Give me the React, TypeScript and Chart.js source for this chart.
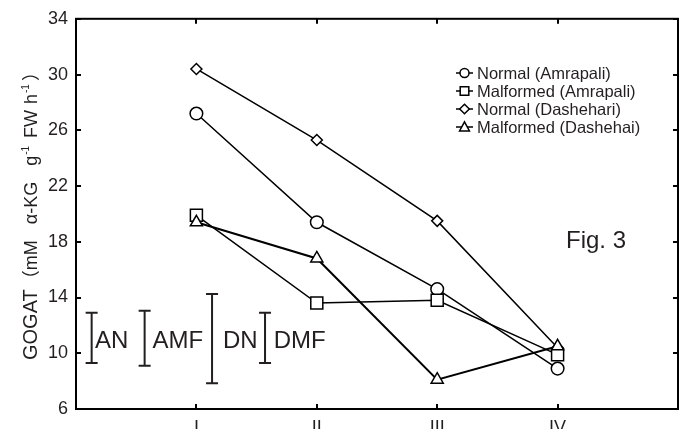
import React, { useEffect, useRef } from "react";
import { Chart, registerables } from "chart.js";

Chart.register(...registerables);

// ---- data ----
const stageLabels = ["I", "II", "III", "IV"];
const stagePositions = [1, 2, 3, 4];
const seriesNames = [
  "Normal (Amrapali)",
  "Malformed (Amrapali)",
  "Normal (Dashehari)",
  "Malformed (Dashehai)",
];
const normalAmrapali = [27.2, 19.4, 14.6, 8.9];
const malformedAmrapali = [19.9, 13.6, 13.8, 9.9];
const normalDashehari = [30.4, 25.3, 19.5, 10.4];
const malformedDashehai = [19.4, 16.8, 8.1, 10.5];
const yMin = 6;
const yMax = 34;
const yStep = 4;

// LSD bars (x in axis units, low/high in y units)
const lsdLabels = ["AN", "AMF", "DN", "DMF"];
const lsdX = [0.13, 0.57, 1.13, 1.57];
const lsdLow = [9.3, 9.1, 7.85, 9.3];
const lsdHigh = [12.9, 13.05, 14.25, 12.9];
const lsdTextX = [0.157, 0.635, 1.221, 1.642];

const figLabel = "Fig. 3";

const FONT = "Arial, 'Liberation Sans', sans-serif";

function drawMarker(ctx: CanvasRenderingContext2D, style: string, x: number, y: number, r: number) {
  ctx.beginPath();
  if (style === "circle") {
    ctx.arc(x, y, r, 0, Math.PI * 2);
  } else if (style === "rect") {
    ctx.rect(x - r, y - r, 2 * r, 2 * r);
  } else if (style === "rectRot") {
    ctx.moveTo(x, y - r);
    ctx.lineTo(x + r, y);
    ctx.lineTo(x, y + r);
    ctx.lineTo(x - r, y);
    ctx.closePath();
  } else if (style === "triangle") {
    ctx.moveTo(x, y - r);
    ctx.lineTo(x + r * 0.95, y + r * 0.75);
    ctx.lineTo(x - r * 0.95, y + r * 0.75);
    ctx.closePath();
  }
  ctx.fill();
  ctx.stroke();
}

const decorPlugin = {
  id: "decor",
  afterDatasetsDraw(chart: any) {
    const { ctx, chartArea, scales } = chart;
    const xs = scales.x;
    const ys = scales.y;
    ctx.save();
    // frame
    ctx.strokeStyle = "#000";
    ctx.lineWidth = 2;
    ctx.strokeRect(chartArea.left, chartArea.top, chartArea.right - chartArea.left, chartArea.bottom - chartArea.top);
    // inward ticks
    const tl = 5;
    ctx.beginPath();
    stagePositions.forEach((v) => {
      const px = Math.round(xs.getPixelForValue(v));
      ctx.moveTo(px, chartArea.bottom);
      ctx.lineTo(px, chartArea.bottom - tl);
      ctx.moveTo(px, chartArea.top);
      ctx.lineTo(px, chartArea.top + tl);
    });
    for (let v = yMin; v <= yMax; v += yStep) {
      const py = Math.round(ys.getPixelForValue(v));
      ctx.moveTo(chartArea.left, py);
      ctx.lineTo(chartArea.left + tl, py);
      ctx.moveTo(chartArea.right, py);
      ctx.lineTo(chartArea.right - tl, py);
    }
    ctx.stroke();

    // LSD bars
    ctx.strokeStyle = "#231f20";
    ctx.fillStyle = "#231f20";
    ctx.lineWidth = 2;
    ctx.font = `24px ${FONT}`;
    ctx.textBaseline = "alphabetic";
    ctx.textAlign = "left";
    lsdLabels.forEach((lab, i) => {
      const px = xs.getPixelForValue(lsdX[i]);
      const top = ys.getPixelForValue(lsdHigh[i]);
      const bot = ys.getPixelForValue(lsdLow[i]);
      ctx.beginPath();
      ctx.moveTo(px, top);
      ctx.lineTo(px, bot);
      ctx.moveTo(px - 6, top);
      ctx.lineTo(px + 6, top);
      ctx.moveTo(px - 6, bot);
      ctx.lineTo(px + 6, bot);
      ctx.stroke();
      const mid = ys.getPixelForValue(11.05);
      ctx.fillText(lab, xs.getPixelForValue(lsdTextX[i]), mid + 9);
    });

    // Fig label
    ctx.fillStyle = "#231f20";
    ctx.font = `24px ${FONT}`;
    ctx.fillText(figLabel, 566, 248);

    // legend
    const styles = ["circle", "rect", "rectRot", "triangle"];
    const radii = [4.5, 4.3, 4.8, 5.2];
    ctx.font = `16.5px ${FONT}`;
    ctx.textBaseline = "middle";
    seriesNames.forEach((name, i) => {
      const y = 73 + i * 18;
      const x0 = 456;
      ctx.strokeStyle = "#000";
      ctx.lineWidth = 1.5;
      ctx.beginPath();
      ctx.moveTo(x0, y);
      ctx.lineTo(x0 + 17, y);
      ctx.stroke();
      ctx.fillStyle = "#fff";
      drawMarker(ctx, styles[i], x0 + 8.5, y, radii[i]);
      ctx.fillStyle = "#231f20";
      ctx.fillText(name, 477, y + 1);
    });

    // y-axis title (rotated)
    ctx.translate(31, 360);
    ctx.rotate(-Math.PI / 2);
    ctx.fillStyle = "#231f20";
    ctx.textBaseline = "alphabetic";
    const segs: [string, number, number, number][] = [
      ["GOGAT", 20, 0, 1],
      ["（", 18, 0, 0],
      ["mM", 18, 0, 16],
      ["α-KG", 18, 0, 16],
      ["g", 18, 0, 1],
      ["-1", 10, -8, 8],
      ["FW", 18, 0, 6],
      ["h", 18, 0, 1],
      ["-1", 10, -8, 3],
      ["）", 18, 0, 0],
    ];
    let cx = 0;
    segs.forEach(([t, fs, dy, gap]) => {
      ctx.font = `${fs}px ${FONT}, 'Noto Sans CJK SC'`;
      ctx.fillText(t, cx, 6 + dy);
      cx += ctx.measureText(t).width + gap;
    });
    ctx.restore();
  },
};

export default function App() {
  const ref = useRef<HTMLCanvasElement | null>(null);
  useEffect(() => {
    if (!ref.current) return;
    const mk = (vals: number[]) => vals.map((v, i) => ({ x: stagePositions[i], y: v }));
    const base = {
      borderColor: "#000",
      backgroundColor: "#fff",
      pointBackgroundColor: "#fff",
      pointBorderColor: "#000",
      pointBorderWidth: 1.5,
      fill: false,
      tension: 0,
    };
    const chart = new Chart(ref.current, {
      type: "line",
      data: {
        datasets: [
          { ...base, label: seriesNames[0], data: mk(normalAmrapali), pointStyle: "circle", pointRadius: 6.3, borderWidth: 1.5, order: 3 },
          { ...base, label: seriesNames[1], data: mk(malformedAmrapali), pointStyle: "rect", pointRadius: 8.5, borderWidth: 1.5, order: 1 },
          { ...base, label: seriesNames[2], data: mk(normalDashehari), pointStyle: "rectRot", pointRadius: 5.5, borderWidth: 1.5, order: 2 },
          { ...base, label: seriesNames[3], data: mk(malformedDashehai), pointStyle: "triangle", pointRadius: 7, borderWidth: 2, order: 0 },
        ],
      },
      options: {
        animation: false,
        responsive: false,
        maintainAspectRatio: false,
        layout: { padding: { left: 0, right: 7, top: 15, bottom: 0 } },
        plugins: { legend: { display: false }, tooltip: { enabled: false } },
        scales: {
          x: {
            type: "linear",
            min: 0,
            max: 5,
            grid: { display: false, drawTicks: false },
            border: { display: false },
            afterBuildTicks: (s: any) => {
              s.ticks = stagePositions.map((v) => ({ value: v }));
            },
            afterFit: (s: any) => {
              s.height = 20;
            },
            ticks: {
              autoSkip: false,
              maxRotation: 0,
              padding: 8,
              color: "#231f20",
              font: { family: FONT, size: 18 },
              callback: (v: any) => {
                const i = stagePositions.indexOf(Number(v));
                return i >= 0 ? stageLabels[i] : "";
              },
            },
          },
          y: {
            min: yMin,
            max: yMax,
            grid: { display: false, drawTicks: false },
            border: { display: false },
            afterFit: (s: any) => {
              s.width = 76;
            },
            ticks: {
              stepSize: yStep,
              padding: 8,
              color: "#231f20",
              font: { family: FONT, size: 18 },
            },
          },
        },
      },
      plugins: [decorPlugin],
    });
    return () => chart.destroy();
  }, []);
  return (
    <div style={{ position: "absolute", left: 0, top: 0, width: 688, height: 429, background: "#fff" }}>
      <canvas ref={ref} width={688} height={429} style={{ width: 688, height: 429, display: "block" }} />
    </div>
  );
}
